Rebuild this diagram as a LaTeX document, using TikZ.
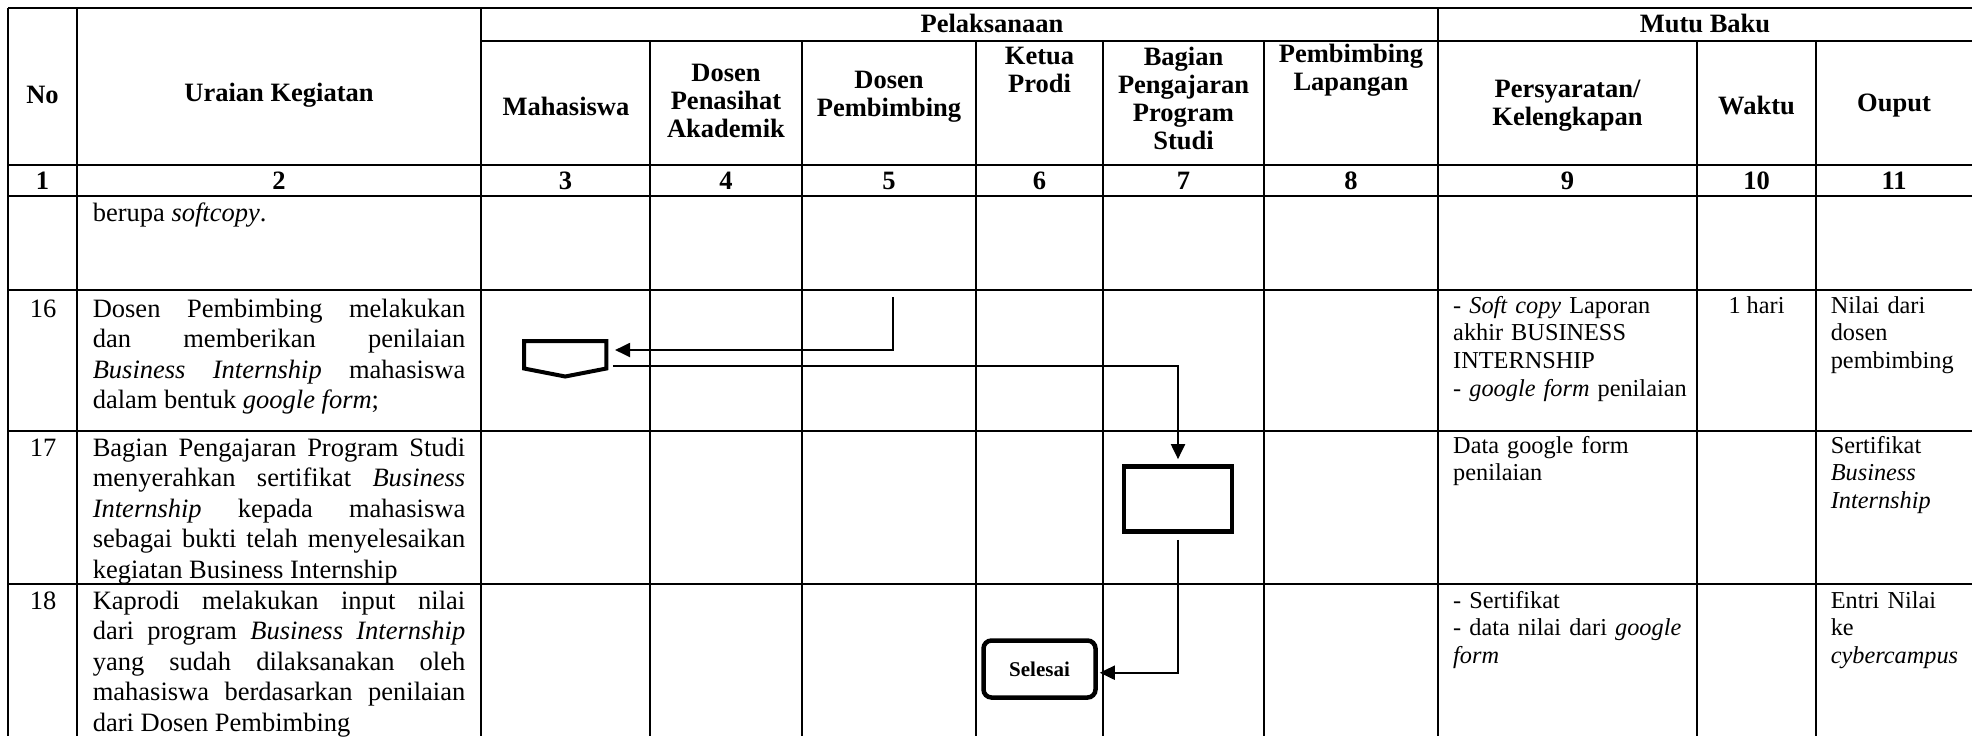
\documentclass[tikz,border=0pt]{standalone}
\usepackage{fontspec}
\setmainfont{Liberation Serif}
\usetikzlibrary{arrows.meta,calc}
\begin{document}
\begin{tikzpicture}[x=1pt,y=-1pt,
  grid/.style={line width=2pt},
  hdr/.style={font=\fontsize{26.5}{28}\selectfont\bfseries, align=center, inner sep=0pt},
  num/.style={font=\fontsize{26.5}{28}\selectfont\bfseries, inner sep=0pt},
  body/.style={font=\fontsize{26.5}{30.5}\selectfont, text width=372.5pt, align=justify, inner sep=0pt, anchor=base west},
  nobody/.style={font=\fontsize{26.5}{30.5}\selectfont, inner sep=0pt, anchor=base},
  small/.style={font=\fontsize{24.3}{27.7}\selectfont, align=left, inner sep=0pt, anchor=base west},
  conn/.style={line width=2pt, -{Triangle[length=15pt,width=14pt]}},
]
\useasboundingbox (0,0) rectangle (1972,736);
% grid
\draw[grid] (8,7.5) -- (1972,7.5);
\draw[grid] (481,40.5) -- (1972,40.5);
\foreach \y in {165,196,290,430.5,584} \draw[grid] (8,\y) -- (1972,\y);
\foreach \x in {8,77,481,1438} \draw[grid] (\x,7.5) -- (\x,736);
\foreach \x in {650,801.5,976,1103,1264,1697,1816} \draw[grid] (\x,40.5) -- (\x,736);
% headers
\node[hdr] (hNo) at (42.5,95) {No};
\node[hdr] (hUr) at (279,95) {Uraian Kegiatan};
\node[hdr] (hPel) at (992,23) {Pelaksanaan};
\node[hdr] (hMutu) at (1705,23) {Mutu Baku};
\node[hdr] (hMhs) at (566,106) {Mahasiswa};
\node[hdr] (hDPA) at (726,101) {Dosen\\Penasihat\\Akademik};
\node[hdr] (hDP) at (889,97) {Dosen\\Pembimbing};
\node[hdr] (hKP) at (1039.5,70) {Ketua\\Prodi};
\node[hdr] (hBP) at (1183.5,98) {Bagian\\Pengajaran\\Program\\Studi};
\node[hdr] (hPL) at (1351,70) {Pembimbing\\Lapangan};
\node[hdr] (hPK) at (1567.5,106) {Persyaratan/\\Kelengkapan};
\node[hdr] (hW) at (1756.5,106) {Waktu};
\node[hdr] (hO) at (1894,106) {Ouput};
% numbers
\node[num] (n1) at (42.5,181) {1};
\node[num] (n2) at (279,181) {2};
\node[num] (n3) at (565.5,181) {3};
\node[num] (n4) at (726,181) {4};
\node[num] (n5) at (889,181) {5};
\node[num] (n6) at (1039.5,181) {6};
\node[num] (n7) at (1183.5,181) {7};
\node[num] (n8) at (1351,181) {8};
\node[num] (n9) at (1567.5,181) {9};
\node[num] (n10) at (1756.5,181) {10};
\node[num] (n11) at (1894,181) {11};
% row 0
\node[body] (u0) at (92.6,221) {berupa \textit{softcopy}.};
% row 16
\node[nobody] (no16) at (43,317) {16};
\node[body] (u16) at (92.6,317) {Dosen Pembimbing melakukan\linebreak dan memberikan penilaian\linebreak \textit{Business Internship} mahasiswa\linebreak dalam bentuk \textit{google form};};
\node[small, text width=240pt] (p16) at (1453,313) {- \textit{Soft copy} Laporan\\akhir BUSINESS\\INTERNSHIP\\- \textit{google form} penilaian};
\node[font=\fontsize{24.3}{27.7}\selectfont, inner sep=0pt, anchor=base] (w16) at (1756.5,313) {1 hari};
\node[small, text width=140pt] (o16) at (1830.6,313) {Nilai dari\\dosen\\pembimbing};
% row 17
\node[nobody] (no17) at (43,456) {17};
\node[body] (u17) at (92.6,456) {Bagian Pengajaran Program Studi\linebreak menyerahkan sertifikat \textit{Business}\linebreak \textit{Internship} kepada mahasiswa\linebreak sebagai bukti telah menyelesaikan\linebreak kegiatan Business Internship};
\node[small, text width=240pt] (p17) at (1453,453) {Data google form\\penilaian};
\node[small, text width=140pt] (o17) at (1830.6,453) {Sertifikat\\\textit{Business}\\\textit{Internship}};
% row 18
\node[nobody] (no18) at (43,609) {18};
\node[body] (u18) at (92.6,609) {Kaprodi melakukan input nilai\linebreak dari program \textit{Business Internship}\linebreak yang sudah dilaksanakan oleh\linebreak mahasiswa berdasarkan penilaian\linebreak dari Dosen Pembimbing};
\node[small, text width=240pt] (p18) at (1453,608) {- Sertifikat\\- data nilai dari \textit{google}\\\textit{form}};
\node[small, text width=140pt] (o18) at (1830.6,608) {Entri Nilai\\ke\\\textit{cybercampus}};
% flow shapes
\node[minimum width=82.3pt, minimum height=27.5pt, inner sep=0pt, outer sep=0pt] (mhs) at (565.2,354.75) {};
\draw[line width=4pt, fill=white] (mhs.north west) -- (mhs.north east) -- (mhs.south east) -- ($(mhs.south)+(0,8)$) -- (mhs.south west) -- cycle;
\node[draw, fill=white, line width=4.7pt, minimum width=108pt, minimum height=65pt, inner sep=0pt] (rect) at (1178,499) {};
\node[draw, fill=white, line width=4.5pt, rounded corners=8pt, minimum width=112pt, minimum height=57pt, inner sep=0pt, font=\fontsize{21}{24}\selectfont\bfseries] (sel) at (1039.5,669) {Selesai};
\coordinate (a1s) at (892.7,297);
\draw[conn] (a1s) |- ($(mhs.east)+(8.7,-4.75)$);
\draw[conn, shorten >=5pt] ($(mhs.east)+(6.4,11)$) -| (rect.north);
\draw[conn, shorten <=6pt] (rect.south) |- ($(sel.east)+(2,3.7)$);
\end{tikzpicture}
\end{document}
